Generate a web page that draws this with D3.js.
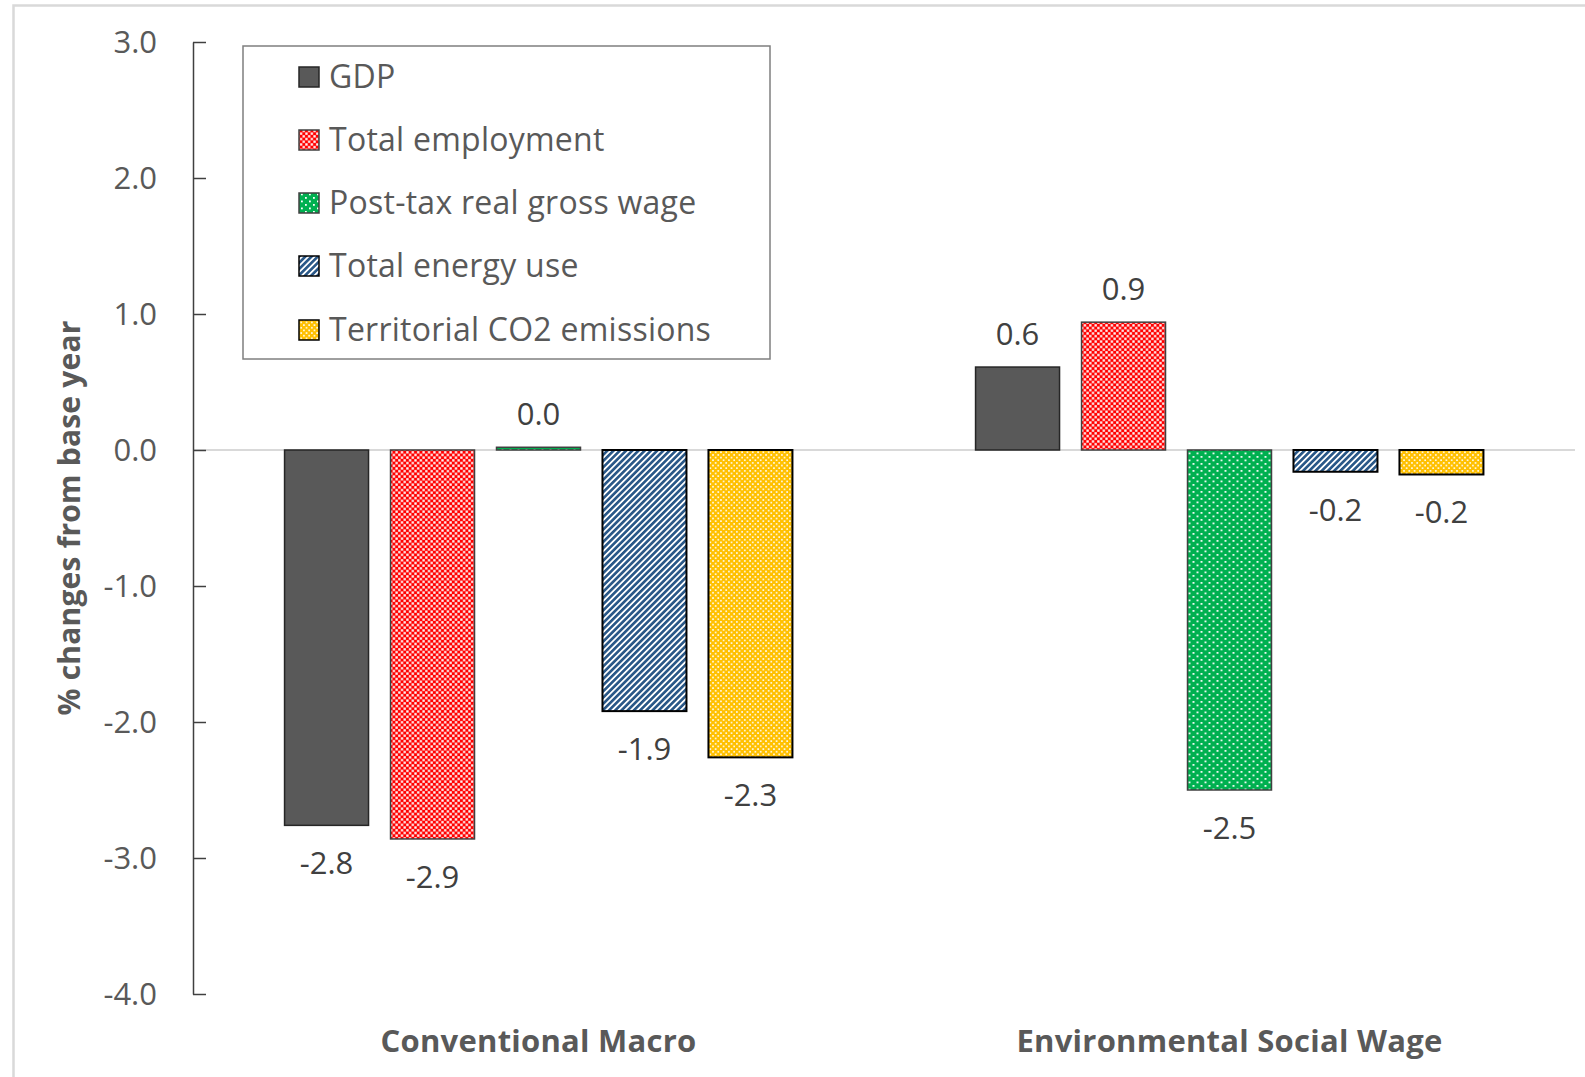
<!DOCTYPE html>
<html>
<head>
<meta charset="utf-8">
<script src="https://cdn.jsdelivr.net/npm/d3@7"></script>
<style>
  html, body { margin: 0; padding: 0; background: #fff; }
  svg { display: block; font-family: "Open Sans", "Noto Sans", sans-serif; }
</style>
</head>
<body>
<svg id="chart" width="1585" height="1077"></svg>
<script>
// Scenarios on the x axis
const scenarios = ["Conventional Macro", "Environmental Social Wage"];
// Indicators shown in each scenario group
const indicators = ["GDP", "Total employment", "Post-tax real gross wage", "Total energy use", "Territorial CO2 emissions"];
// % change from base year, one array per scenario, in indicator order
const conventionalMacro = [-2.76, -2.86, 0.02, -1.92, -2.26];
const environmentalSocialWage = [0.61, 0.94, -2.50, -0.16, -0.18];
// Y axis ticks
const yTicks = [3, 2, 1, 0, -1, -2, -3, -4];

const seriesValues = [conventionalMacro, environmentalSocialWage];

const svg = d3.select("#chart");
const defs = svg.append("defs");

// One decimal, with a plain hyphen for negatives
const fmt = v => d3.format(".1f")(v).replace("\u2212", "-");

// Fill patterns for the indicator bars
function checker(id, color, s, hole) {
  const p = defs.append("pattern").attr("id", id).attr("patternUnits", "userSpaceOnUse")
    .attr("width", 2 * s).attr("height", 2 * s);
  p.append("rect").attr("width", 2 * s).attr("height", 2 * s).attr("fill", color);
  const o = (s - hole) / 2;
  p.append("rect").attr("x", o).attr("y", o).attr("width", hole).attr("height", hole).attr("fill", "#fff");
  p.append("rect").attr("x", s + o).attr("y", s + o).attr("width", hole).attr("height", hole).attr("fill", "#fff");
}
function dots(id, color, w, h, r) {
  const p = defs.append("pattern").attr("id", id).attr("patternUnits", "userSpaceOnUse")
    .attr("width", w).attr("height", h);
  p.append("rect").attr("width", w).attr("height", h).attr("fill", color);
  p.append("rect").attr("x", 1).attr("y", 1).attr("width", r).attr("height", r).attr("fill", "#fff");
  p.append("rect").attr("x", 1 + w / 2).attr("y", 1 + h / 2).attr("width", r).attr("height", r).attr("fill", "#fff");
}
function stripes(id, color, period) {
  const p = defs.append("pattern").attr("id", id).attr("patternUnits", "userSpaceOnUse")
    .attr("width", period).attr("height", period).attr("patternTransform", "rotate(45)");
  p.append("rect").attr("width", period).attr("height", period).attr("fill", "#fff");
  p.append("rect").attr("width", period * 0.6).attr("height", period).attr("fill", color);
}
checker("pEmp", "#ff0000", 2.7, 2.3);
dots("pWage", "#00b050", 8, 7, 1.8);
stripes("pEnergy", "#2a5888", 4.4);
dots("pCO2", "#ffc000", 5.3, 5.3, 1.6);

const fills = ["#595959", "url(#pEmp)", "url(#pWage)", "url(#pEnergy)", "url(#pCO2)"];
const strokes = ["#262626", "#404040", "#404040", "#000000", "#000000"];
const strokeW = [1.5, 1.5, 1.5, 2, 2];

// Outer frame (only left and top edges fall inside the view)
svg.append("rect").attr("x", 13.5).attr("y", 5.5).attr("width", 1700).attr("height", 1200)
  .attr("fill", "none").attr("stroke", "#d9d9d9").attr("stroke-width", 2.5);

const plotLeft = 193, plotRight = 1575;
const y = d3.scaleLinear().domain([-4, 3]).range([994, 42]);
const x0 = d3.scaleBand().domain(scenarios).range([plotLeft, plotRight]).paddingInner(0.265).paddingOuter(0.1325);
const x1 = d3.scaleBand().domain(indicators).range([0, x0.bandwidth()]).paddingInner(0.2075).paddingOuter(0);

// Zero line
svg.append("line").attr("x1", plotLeft).attr("x2", plotRight).attr("y1", y(0)).attr("y2", y(0))
  .attr("stroke", "#d9d9d9").attr("stroke-width", 2);

// Y axis with ticks pointing into the plot
const yAxis = svg.append("g").attr("transform", `translate(${plotLeft},0)`)
  .call(d3.axisRight(y).tickValues(yTicks).tickSize(13).tickSizeOuter(0).tickFormat(""));
yAxis.select(".domain").attr("stroke", "#404040").attr("stroke-width", 1.5);
yAxis.selectAll(".tick line").attr("stroke", "#404040").attr("stroke-width", 1.5);
svg.append("g").selectAll("text").data(yTicks).join("text")
  .attr("x", 157).attr("y", d => y(d)).attr("dy", "0.35em").attr("text-anchor", "end")
  .attr("font-size", 31).attr("fill", "#595959").text(d => fmt(d));

// Axis title
svg.append("text").attr("transform", `translate(80,518) rotate(-90)`).attr("text-anchor", "middle")
  .attr("font-size", 30).attr("letter-spacing", 0.2).attr("font-weight", 700).attr("fill", "#595959")
  .text("% changes from base year");

// Category labels
svg.append("g").selectAll("text").data(scenarios).join("text")
  .attr("x", d => x0(d) + x0.bandwidth() / 2).attr("y", 1041).attr("dy", "0.35em")
  .attr("text-anchor", "middle").attr("font-size", 31).attr("letter-spacing", 0.25)
  .attr("font-weight", 700).attr("fill", "#595959")
  .text(d => d);

// Bars and value labels
scenarios.forEach((sc, si) => {
  const g = svg.append("g").attr("transform", `translate(${x0(sc)},0)`);
  const vals = seriesValues[si];
  g.selectAll("rect").data(indicators).join("rect")
    .attr("x", d => x1(d)).attr("width", x1.bandwidth())
    .attr("y", (d, i) => y(Math.max(0, vals[i])))
    .attr("height", (d, i) => Math.abs(y(vals[i]) - y(0)))
    .attr("fill", (d, i) => fills[i]).attr("stroke", (d, i) => strokes[i]).attr("stroke-width", (d, i) => strokeW[i]);
  g.selectAll("text").data(indicators).join("text")
    .attr("x", d => x1(d) + x1.bandwidth() / 2)
    .attr("y", (d, i) => vals[i] >= 0 ? y(vals[i]) - 33 : y(vals[i]) + 38)
    .attr("dy", "0.35em").attr("text-anchor", "middle").attr("font-size", 31).attr("fill", "#404040")
    .text((d, i) => fmt(vals[i]));
});

// Legend
const lg = svg.append("g");
lg.append("rect").attr("x", 243).attr("y", 46).attr("width", 527).attr("height", 313)
  .attr("fill", "#fff").attr("stroke", "#7f7f7f").attr("stroke-width", 1.5);
const rowY = [77, 140, 203, 266, 330];
indicators.forEach((name, i) => {
  lg.append("rect").attr("x", 299).attr("y", rowY[i] - 10).attr("width", 20).attr("height", 20)
    .attr("fill", fills[i]).attr("stroke", strokes[i]).attr("stroke-width", 1.5);
  lg.append("text").attr("x", 329).attr("y", rowY[i]).attr("dy", "0.35em")
    .attr("font-size", 32).attr("letter-spacing", 0.25).attr("fill", "#595959").text(name);
});
</script>
</body>
</html>
